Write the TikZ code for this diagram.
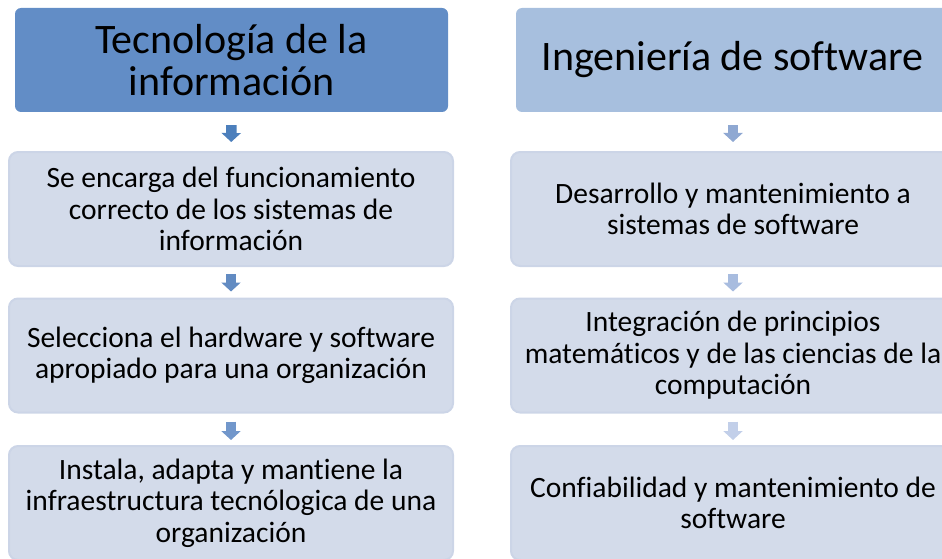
\documentclass[tikz,border=0pt]{standalone}
\usepackage{fontspec}
\setmainfont{Carlito}[Ligatures=NoCommon]
\usepackage{xcolor}
\usetikzlibrary{arrows.meta,positioning}
\definecolor{clrHeadL}{RGB}{98,141,198}
\definecolor{clrHeadR}{RGB}{167,191,222}
\definecolor{clrBox}{RGB}{211,219,234}
\definecolor{clrEdge}{RGB}{204,213,231}
\definecolor{clrArrA}{RGB}{76,127,188}
\definecolor{clrArrB}{RGB}{98,139,194}
\definecolor{clrArrC}{RGB}{114,151,203}
\definecolor{clrArrD}{RGB}{143,168,210}
\definecolor{clrArrE}{RGB}{168,188,223}
\definecolor{clrArrF}{RGB}{194,207,233}
\tikzset{
  header/.style={rectangle,rounded corners=6pt,fill=clrHeadL,
    minimum width=433pt,minimum height=104pt,align=center,inner sep=0pt,
    font=\fontsize{42}{42}\selectfont},
  headerR/.style={header,fill=clrHeadR},
  item/.style={rectangle,rounded corners=9pt,fill=clrBox,draw=clrEdge,line width=2pt,
    minimum width=444pt,minimum height=114pt,align=center,inner sep=0pt,
    font=\fontsize{29.5}{31.5}\selectfont},
  blockarrow/.style={line width=10.5pt,-{Triangle[width=19pt,length=9pt]}}
}

\begin{document}
\begin{tikzpicture}[x=1pt,y=-1pt]
  \useasboundingbox (0,0) rectangle (942,559);
  \clip (0,0) rectangle (942,559);
  % left column
  \node[header] (tecnologia) at (231.5,60) {Tecnología de la\\información};
  \node[item] (encarga) at (231,209)
    {Se encarga del funcionamiento\\correcto de los sistemas de\\información};
  \node[item] (selecciona) at (231,355.5)
    {Selecciona el hardware y software\\apropiado para una organización};
  \node[item] (instala) at (231,503)
    {Instala, adapta y mantiene la\\infraestructura tecnólogica de una\\organización};
  % right column
  \node[headerR] (ingenieria) at (732.5,60) {Ingeniería de software};
  \node[item] (desarrollo) at (733,209)
    {Desarrollo y mantenimiento a\\sistemas de software};
  \node[item] (integracion) at (733,355.5)
    {Integración de principios\\matemáticos y de las ciencias de la\\computación};
  \node[item] (confiabilidad) at (733,503)
    {Confiabilidad y mantenimiento de\\software};
  \draw[blockarrow,color=clrArrA,shorten <=13pt,shorten >=9pt] (tecnologia) -- (encarga);
  \draw[blockarrow,color=clrArrB,shorten <=7pt,shorten >=6pt] (encarga) -- (selecciona);
  \draw[blockarrow,color=clrArrC,shorten <=8pt,shorten >=5pt] (selecciona) -- (instala);
  \draw[blockarrow,color=clrArrD,shorten <=13pt,shorten >=9pt] (ingenieria.south -| desarrollo) -- (desarrollo);
  \draw[blockarrow,color=clrArrE,shorten <=7pt,shorten >=6pt] (desarrollo) -- (integracion);
  \draw[blockarrow,color=clrArrF,shorten <=8pt,shorten >=5pt] (integracion) -- (confiabilidad);
\end{tikzpicture}
\end{document}
